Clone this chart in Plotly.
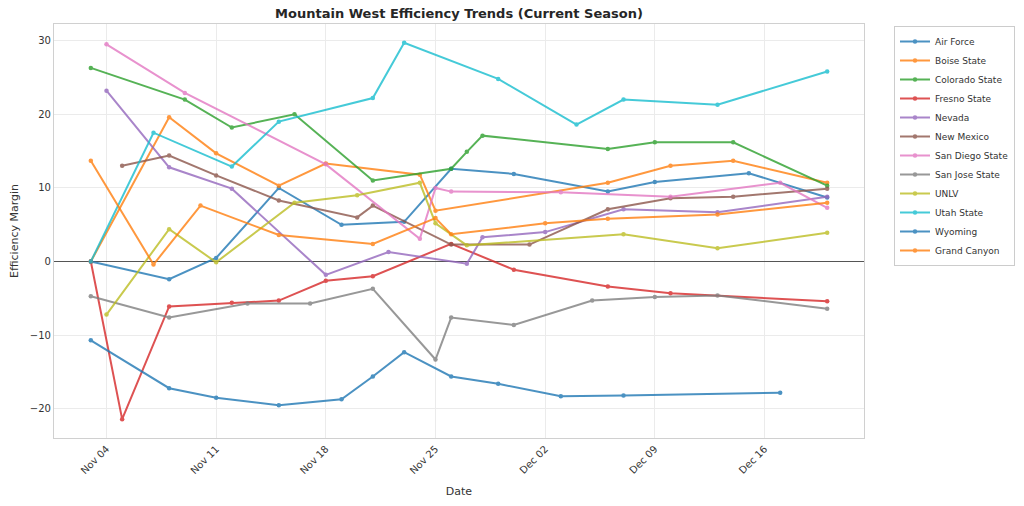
import plotly.graph_objects as go

# ---------------- data ----------------
air_force_dates = ["2024-11-03", "2024-11-08", "2024-11-11", "2024-11-15", "2024-11-19", "2024-11-23",
                   "2024-11-26", "2024-11-30", "2024-12-06", "2024-12-09", "2024-12-15", "2024-12-20"]
air_force_vals = [0.0, -2.4, 0.5, 10.0, 5.0, 5.4, 12.6, 11.9, 9.5, 10.8, 12.0, 8.7]

boise_dates = ["2024-11-03", "2024-11-08", "2024-11-11", "2024-11-15", "2024-11-18", "2024-11-24",
               "2024-11-25", "2024-12-06", "2024-12-10", "2024-12-14", "2024-12-20"]
boise_vals = [0.0, 19.6, 14.7, 10.3, 13.3, 11.8, 6.9, 10.7, 13.0, 13.7, 10.7]

colorado_dates = ["2024-11-03", "2024-11-09", "2024-11-12", "2024-11-16", "2024-11-21", "2024-11-26",
                  "2024-11-27", "2024-11-28", "2024-12-06", "2024-12-09", "2024-12-14", "2024-12-20"]
colorado_vals = [26.3, 22.0, 18.2, 20.0, 11.0, 12.6, 14.9, 17.1, 15.3, 16.2, 16.2, 10.3]

fresno_dates = ["2024-11-03", "2024-11-05", "2024-11-08", "2024-11-12", "2024-11-15", "2024-11-18",
                "2024-11-21", "2024-11-26", "2024-11-30", "2024-12-06", "2024-12-10", "2024-12-20"]
fresno_vals = [0.0, -21.4, -6.1, -5.6, -5.3, -2.6, -2.0, 2.4, -1.1, -3.4, -4.3, -5.4]

nevada_dates = ["2024-11-04", "2024-11-08", "2024-11-12", "2024-11-18", "2024-11-22", "2024-11-27",
                "2024-11-28", "2024-12-02", "2024-12-07", "2024-12-13", "2024-12-20"]
nevada_vals = [23.2, 12.8, 9.9, -1.8, 1.3, -0.3, 3.3, 4.0, 7.1, 6.7, 8.8]

new_mexico_dates = ["2024-11-05", "2024-11-08", "2024-11-11", "2024-11-15", "2024-11-20", "2024-11-21",
                    "2024-11-26", "2024-12-01", "2024-12-06", "2024-12-10", "2024-12-14", "2024-12-20"]
new_mexico_vals = [13.0, 14.4, 11.7, 8.3, 6.0, 7.6, 2.3, 2.3, 7.1, 8.6, 8.8, 9.9]

sdsu_dates = ["2024-11-04", "2024-11-09", "2024-11-18", "2024-11-24", "2024-11-25", "2024-11-26",
              "2024-12-03", "2024-12-10", "2024-12-17", "2024-12-20"]
sdsu_vals = [29.5, 22.9, 13.2, 3.1, 10.0, 9.5, 9.4, 8.8, 10.7, 7.3]

sjsu_dates = ["2024-11-03", "2024-11-08", "2024-11-13", "2024-11-17", "2024-11-21", "2024-11-25",
              "2024-11-26", "2024-11-30", "2024-12-05", "2024-12-09", "2024-12-13", "2024-12-20"]
sjsu_vals = [-4.7, -7.6, -5.7, -5.7, -3.7, -13.3, -7.6, -8.6, -5.3, -4.8, -4.6, -6.4]

unlv_dates = ["2024-11-04", "2024-11-08", "2024-11-11", "2024-11-16", "2024-11-20", "2024-11-24",
              "2024-11-25", "2024-11-27", "2024-12-07", "2024-12-13", "2024-12-20"]
unlv_vals = [-7.2, 4.4, -0.1, 8.0, 9.0, 10.7, 5.2, 2.2, 3.7, 1.8, 3.9]

utah_dates = ["2024-11-03", "2024-11-07", "2024-11-12", "2024-11-15", "2024-11-21", "2024-11-23",
              "2024-11-29", "2024-12-04", "2024-12-07", "2024-12-13", "2024-12-20"]
utah_vals = [0.0, 17.5, 12.9, 19.0, 22.2, 29.7, 24.8, 18.6, 22.0, 21.3, 25.8]

wyoming_dates = ["2024-11-03", "2024-11-08", "2024-11-11", "2024-11-15", "2024-11-19", "2024-11-21",
                 "2024-11-23", "2024-11-26", "2024-11-29", "2024-12-03", "2024-12-07", "2024-12-17"]
wyoming_vals = [-10.7, -17.2, -18.5, -19.5, -18.7, -15.6, -12.3, -15.6, -16.6, -18.3, -18.2, -17.8]

gcu_dates = ["2024-11-03", "2024-11-07", "2024-11-10", "2024-11-15", "2024-11-21", "2024-11-25",
             "2024-11-26", "2024-12-02", "2024-12-06", "2024-12-13", "2024-12-20"]
gcu_vals = [13.7, -0.4, 7.6, 3.6, 2.4, 5.9, 3.7, 5.2, 5.8, 6.4, 8.0]

teams = ["Air Force", "Boise State", "Colorado State", "Fresno State", "Nevada", "New Mexico",
         "San Diego State", "San Jose State", "UNLV", "Utah State", "Wyoming", "Grand Canyon"]
series_dates = [air_force_dates, boise_dates, colorado_dates, fresno_dates, nevada_dates, new_mexico_dates,
                sdsu_dates, sjsu_dates, unlv_dates, utah_dates, wyoming_dates, gcu_dates]
series_vals = [air_force_vals, boise_vals, colorado_vals, fresno_vals, nevada_vals, new_mexico_vals,
               sdsu_vals, sjsu_vals, unlv_vals, utah_vals, wyoming_vals, gcu_vals]

colors = ["#1f77b4", "#ff7f0e", "#2ca02c", "#d62728", "#9467bd", "#8c564b",
          "#e377c2", "#7f7f7f", "#bcbd22", "#17becf", "#1f77b4", "#ff7f0e"]

FONT = "DejaVu Sans"

fig = go.Figure()
for name, xs, ys, c in zip(teams, series_dates, series_vals, colors):
    fig.add_trace(go.Scatter(
        x=xs, y=ys, name=name, mode="lines+markers",
        line=dict(color=c, width=2), marker=dict(color=c, size=4.5),
        opacity=0.8,
    ))

fig.update_layout(
    width=1024, height=506,
    paper_bgcolor="white", plot_bgcolor="white",
    margin=dict(l=54, r=160, t=24, b=68),
    font=dict(family=FONT, color="#333333", size=10),
    title=dict(text="<b>Mountain West Efficiency Trends (Current Season)</b>",
               x=(54 + 864) / 2 / 1024, xanchor="center", y=1 - 13 / 506, yanchor="middle",
               font=dict(family=FONT, size=13, color="#262626")),
    showlegend=True,
    legend=dict(xref="container", yref="container",
                x=894 / 1024, xanchor="left", y=1 - 26 / 506, yanchor="top",
                bgcolor="white", bordercolor="#cccccc", borderwidth=1,
                font=dict(family=FONT, size=9, color="#333333"),
                itemwidth=30, tracegroupgap=0),
)

fig.update_xaxes(
    type="date", automargin=False,
    range=["2024-10-31 15:36", "2024-12-22 08:24"],
    tick0="2024-11-04", dtick=7 * 86400000, tickformat="%b %d",
    tickangle=-45, tickfont=dict(size=10, color="#333333"),
    showgrid=True, gridcolor="#ebebeb", gridwidth=1,
    showline=True, linecolor="#d0d0d0", linewidth=1.2, mirror=True,
    ticks="", zeroline=False,
    title=dict(text="Date", font=dict(size=11, color="#333333"), standoff=12),
)
fig.update_yaxes(
    automargin=False,
    range=[-23.96, 32.26],
    tickvals=[-20, -10, 0, 10, 20, 30], ticktext=["\u221220", "\u221210", "0", "10", "20", "30"],
    tickfont=dict(size=10, color="#333333"),
    showgrid=True, gridcolor="#ebebeb", gridwidth=1,
    showline=True, linecolor="#d0d0d0", linewidth=1.2, mirror=True,
    ticks="", zeroline=True, zerolinecolor="#555555", zerolinewidth=1,
    title=dict(text="Efficiency Margin", font=dict(size=11, color="#333333"), standoff=8),
)

fig.write_html("out.html", config={"displayModeBar": False},
               post_script="document.body.style.margin='0';")
